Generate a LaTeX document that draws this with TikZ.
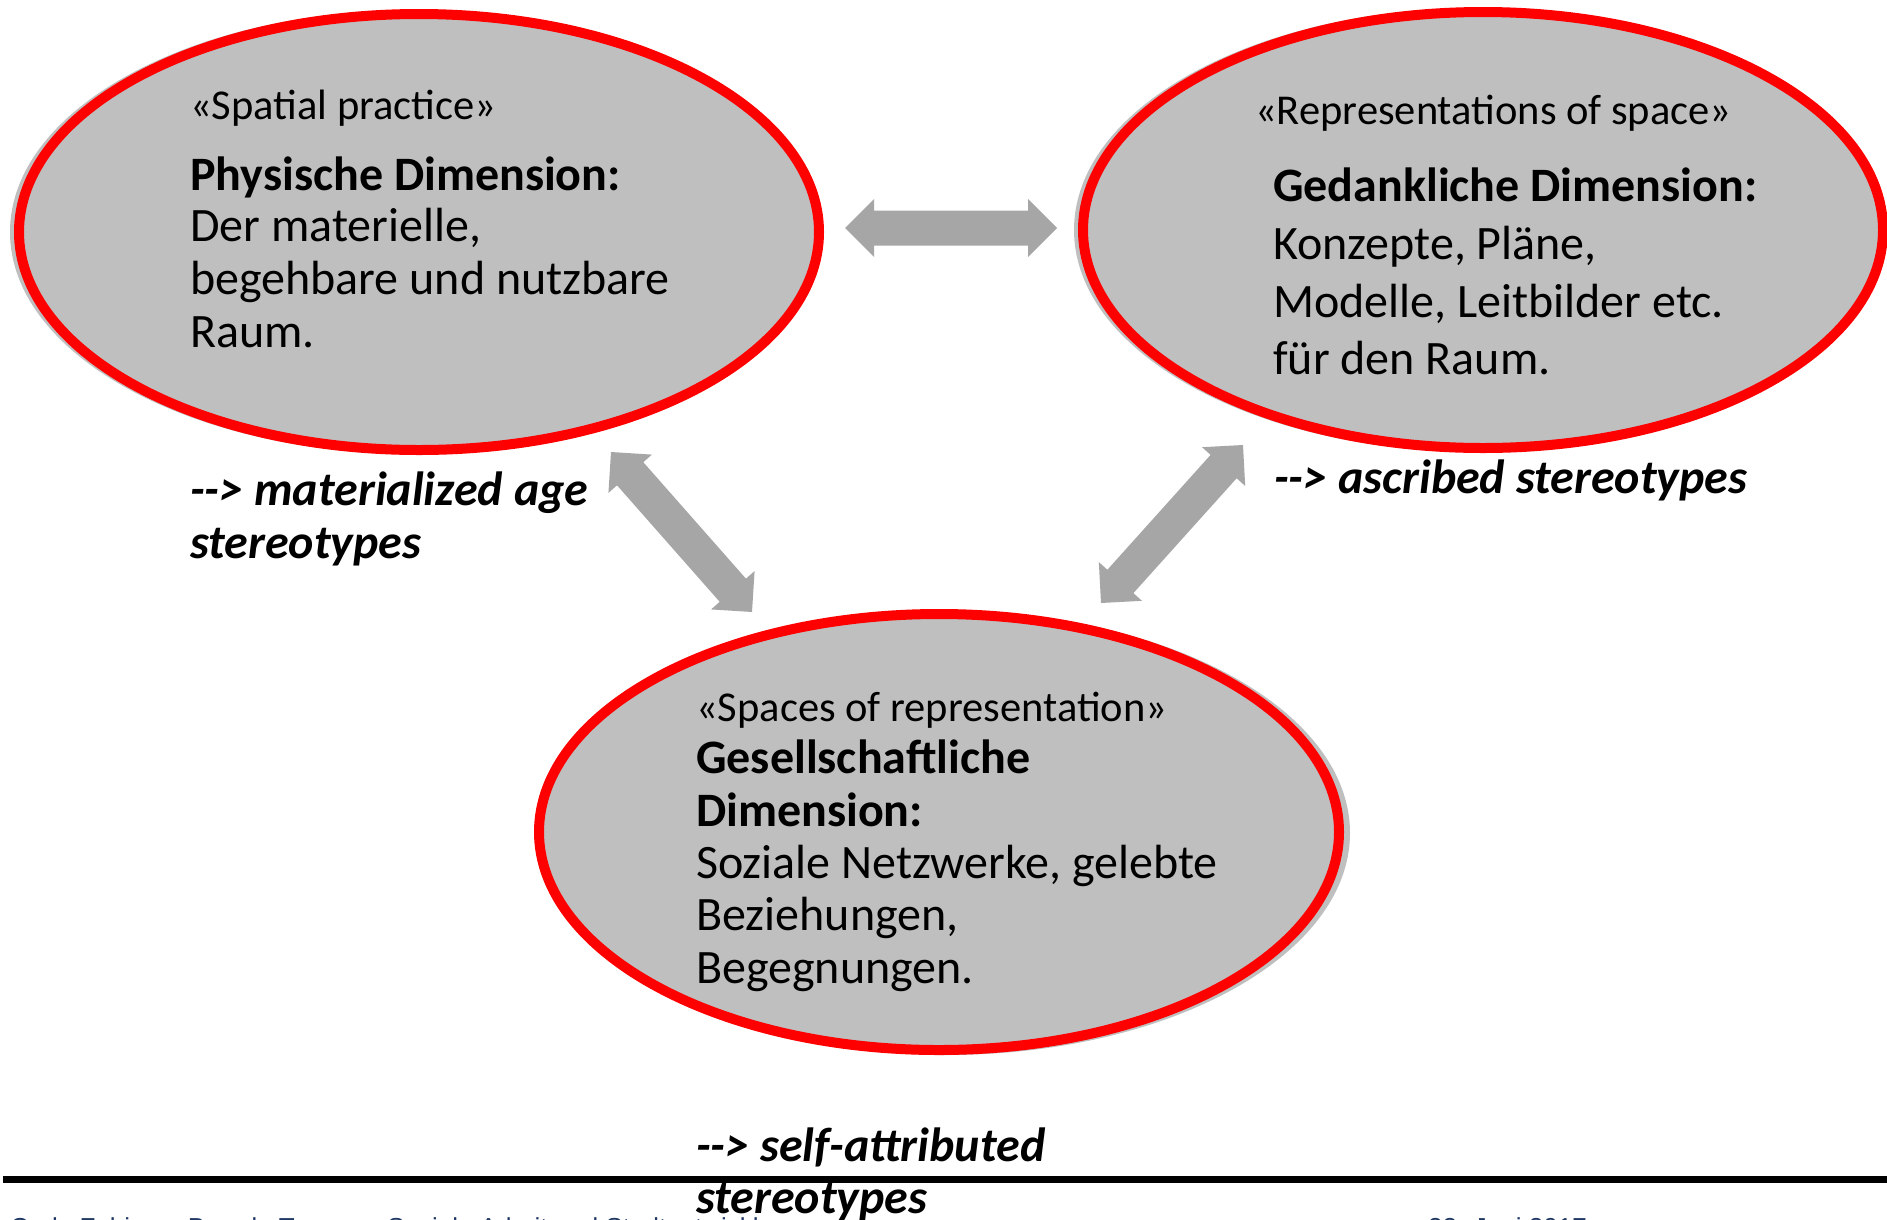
\documentclass[tikz,border=0pt]{standalone}
\usepackage{fontspec}
\setmainfont{Carlito}
\newfontfamily\footfont{Liberation Sans}
\usetikzlibrary{calc,shapes.geometric}
\definecolor{ringred}{RGB}{255,0,0}
\definecolor{ellgray}{RGB}{191,191,191}
\definecolor{arrgray}{RGB}{166,166,166}
\definecolor{footblue}{RGB}{31,56,100}
\tikzset{
 bubble/.style={ellipse, draw=ringred, line width=10pt, fill=ellgray, minimum width=800pt, minimum height=436pt, inner sep=0pt, outer sep=0pt},
 headtxt/.style={anchor=base west, inner sep=0pt, font=\fontsize{42.5}{50}\selectfont},
 bodytxt/.style={anchor=base west, inner sep=0pt, font=\fontsize{48}{53}\selectfont},
 boldtxt/.style={anchor=base west, inner sep=0pt, font=\fontsize{48}{53}\selectfont\bfseries},
 notetxt/.style={anchor=base west, inner sep=0pt, font=\fontsize{48}{53}\selectfont\bfseries\itshape},
 foottxt/.style={anchor=base west, inner sep=0pt, text=footblue, font=\footfont\fontsize{26}{30}\selectfont},
}
\newcommand\blockarrow[2]{%
 \coordinate (ha) at ($(#1)!29pt!(#2)$);
 \coordinate (hb) at ($(#2)!29pt!(#1)$);
 \fill[arrgray] (#1) -- ($(ha)!29pt!90:(#2)$) -- ($(ha)!17.5pt!90:(#2)$)
   -- ($(hb)!17.5pt!-90:(#1)$) -- ($(hb)!29pt!-90:(#1)$) -- (#2)
   -- ($(hb)!29pt!90:(#1)$) -- ($(hb)!17.5pt!90:(#1)$)
   -- ($(ha)!17.5pt!-90:(#2)$) -- ($(ha)!29pt!-90:(#2)$) -- cycle;}
\begin{document}
\begin{tikzpicture}[x=1pt,y=-1pt]
\useasboundingbox (0,0) rectangle (1887,1219);
% shadows
\fill[ellgray] (414,232) ellipse [x radius=404, y radius=222];
\fill[ellgray] (1478,230) ellipse [x radius=404, y radius=222];
\fill[ellgray] (946,833) ellipse [x radius=404, y radius=222];
% ellipses
\node[bubble] (e1) at (419,232) {};
\node[bubble] (e2) at (1483,230) {};
\node[bubble] (e3) at (939,832) {};
% ellipse 1 text
\node[headtxt] (t1a) at (190,119) {«Spatial practice»};
\node[boldtxt] (t1b) at (190,190) {Physische Dimension:};
\node[bodytxt] (t1c) at (190,241) {Der materielle,};
\node[bodytxt] (t1d) at (190,294) {begehbare und nutzbare};
\node[bodytxt] (t1e) at (190,347) {Raum.};
% ellipse 2 text
\node[headtxt] (t2a) at (1255,124) {«Representations of space»};
\node[boldtxt] (t2b) at (1273,201) {Gedankliche Dimension:};
\node[bodytxt] (t2c) at (1273,259) {Konzepte, Pläne,};
\node[bodytxt] (t2d) at (1273,317) {Modelle, Leitbilder etc.};
\node[bodytxt] (t2e) at (1273,374) {für den Raum.};
% ellipse 3 text
\node[headtxt] (t3a) at (696,721) {«Spaces of representation»};
\node[boldtxt] (t3b) at (696,773) {Gesellschaftliche};
\node[boldtxt] (t3c) at (696,826) {Dimension:};
\node[bodytxt] (t3d) at (696,878) {Soziale Netzwerke, gelebte};
\node[bodytxt] (t3e) at (696,930) {Beziehungen,};
\node[bodytxt] (t3f) at (696,983) {Begegnungen.};
% arrows
\coordinate (a1) at (845,228);
\coordinate (a2) at (1057,228);
\coordinate (b1) at (611,452);
\coordinate (b2) at (752,612);
\coordinate (c1) at (1101,603);
\coordinate (c2) at (1243,445);
\blockarrow{a1}{a2}
\blockarrow{b1}{b2}
\blockarrow{c1}{c2}
% footer
\coordinate (l1) at (3,1179.5);
\coordinate (l2) at (1887,1179.5);
\draw[line width=7pt] (l1) -- (l2);
\node[foottxt] (f1) at (10,1236) {Carla Fabian – Brenda Tanner – Soziale Arbeit und Stadtentwicklung};
\node[foottxt] (f2) at (1428,1236) {22. Juni 2017};
% labels
\node[notetxt] (n1a) at (190,505) {-{}-> materialized age};
\node[notetxt] (n1b) at (190,558) {stereotypes};
\node[notetxt] (n2a) at (1274,493) {-{}-> ascribed stereotypes};
\node[notetxt] (n3a) at (696,1161) {-{}-> self-attributed};
\node[notetxt] (n3b) at (696,1213) {stereotypes};
\end{tikzpicture}
\end{document}
